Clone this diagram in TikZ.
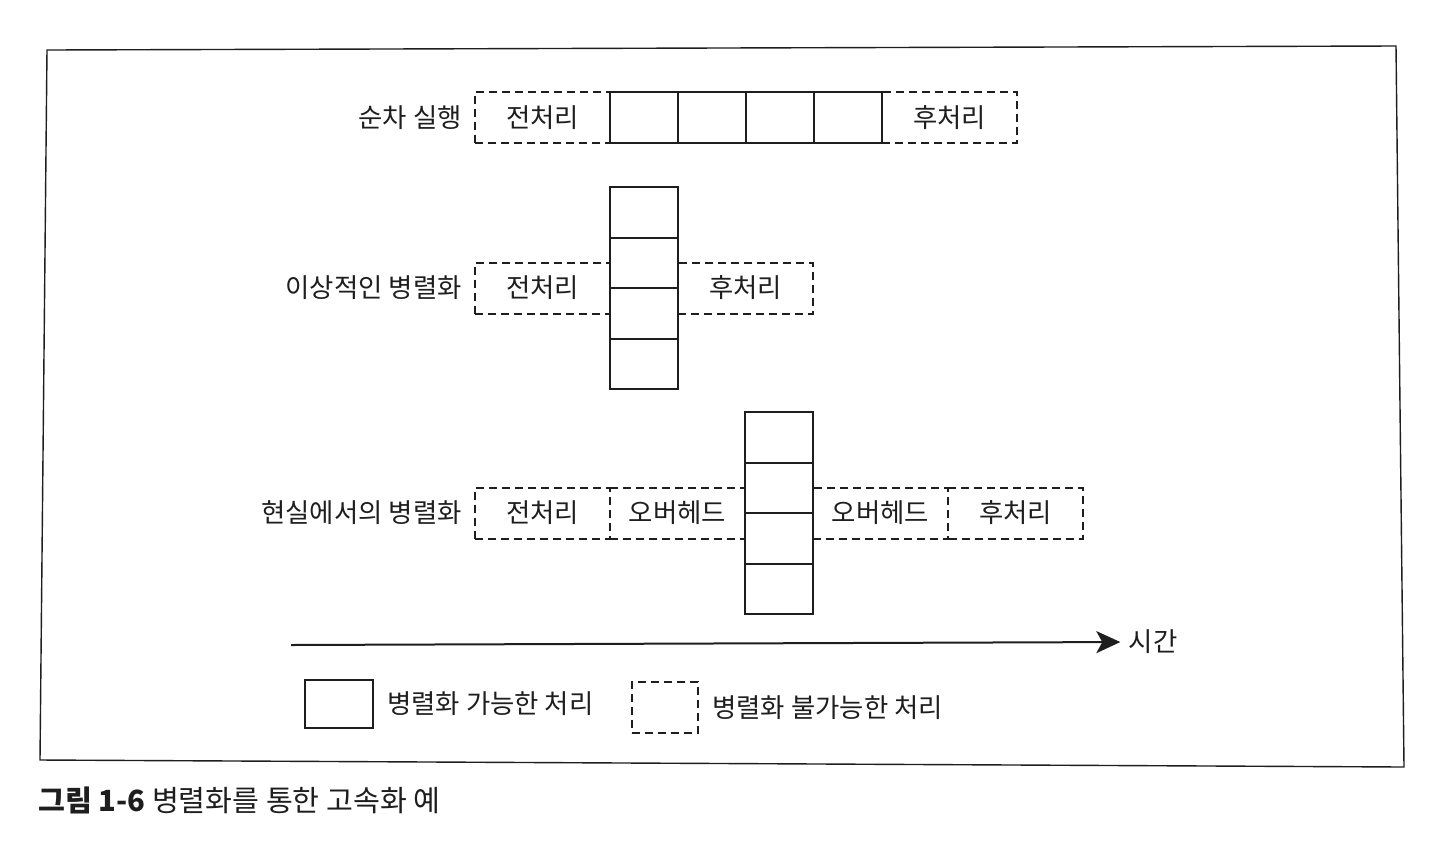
\documentclass[tikz,border=0pt]{standalone}
\usepackage{fontspec}
\setmainfont{Noto Sans CJK KR}
\usepackage{xcolor}
\usetikzlibrary{positioning,arrows.meta}
\definecolor{tinte}{HTML}{1E1E1E}
\definecolor{papier}{HTML}{FFFFFF}

\tikzset{
    parbox/.style={draw=tinte, line width=1pt, minimum width=34pt, minimum height=25.25pt, inner sep=0pt, outer sep=0pt},
    seqbox/.style={draw=tinte, line width=1pt, dash pattern=on 4pt off 2.5pt, minimum width=67.5pt, minimum height=25.5pt, inner sep=0pt, outer sep=0pt, text=tinte, font=\fontsize{13.2}{15}\selectfont},
    seqline/.style={draw=tinte, line width=1pt, dash pattern=on 4pt off 2.5pt},
    lbl/.style={inner sep=0pt, text=tinte, font=\fontsize{13.2}{15}\selectfont}
}

\begin{document}
\begin{tikzpicture}[x=0.5pt, y=-0.5pt]
\useasboundingbox[fill=papier] (0,0) rectangle (1440,858);

% Rahmen
\draw[tinte, line width=0.7pt] (47,50) -- (1396,46) -- (1404,767) -- (40,760) -- cycle;

% Zeile 1: sequentielle Ausfuehrung
\node[seqbox, anchor=north west] (pre1) at (475,92) {전처리};
\node[parbox, right=0pt of pre1] (s1) {};
\foreach \n in {2,...,4} {
    \pgfmathtruncatemacro{\prev}{\n-1}
    \node[parbox, right=0pt of s\prev] (s\n) {};
}
\node[seqbox, right=0pt of s4] (post1) {후처리};
\node[lbl, left=6.5pt of pre1] (row1) {순차 실행};

% Zeile 2: ideale Parallelisierung
\node[parbox, anchor=north west] (i1) at (610,187) {};
\foreach \n in {2,...,4} {
    \pgfmathtruncatemacro{\prev}{\n-1}
    \node[parbox, below=0pt of i\prev] (i\n) {};
}
\node[seqbox, anchor=east] (pre2) at (i2.south west) {전처리};
\node[seqbox, anchor=west] (post2) at (i2.south east) {후처리};
\node[lbl, left=6.5pt of pre2] (row2) {이상적인 병렬화};

% Zeile 3: reale Parallelisierung
\node[parbox, anchor=north west] (r1) at (745,412) {};
\foreach \n in {2,...,4} {
    \pgfmathtruncatemacro{\prev}{\n-1}
    \node[parbox, below=0pt of r\prev] (r\n) {};
}
% gemeinsame Kanten nur einmal gestrichelt
\node[seqbox, draw=none, anchor=east] (ovh3a) at (r2.south west) {오버헤드};
\node[seqbox, left=0pt of ovh3a] (pre3) {전처리};
\draw[seqline] (ovh3a.north west) -- (ovh3a.north east);
\draw[seqline] (ovh3a.south west) -- (ovh3a.south east);
\node[seqbox, anchor=west] (ovh3b) at (r2.south east) {오버헤드};
\node[seqbox, draw=none, right=0pt of ovh3b] (post3) {후처리};
\draw[seqline] (post3.north west) -- (post3.north east) -- (post3.south east) -- (post3.south west);
\node[lbl, left=6.5pt of pre3] (row3) {현실에서의 병렬화};

% Zeitachse
\coordinate (t0) at (291,645);
\node[lbl] (zeit) at (1153,642) {시간};
\draw[tinte, line width=1pt, shorten >=4pt, -{Stealth[length=12pt, width=11pt, inset=3pt]}] (t0) -- (zeit.west);

% Legende
\node[parbox, anchor=north west, minimum height=24pt] (leg1) at (305,680) {};
\node[lbl, right=7pt of leg1] (leg1t) {병렬화 가능한 처리};
\node[seqbox, anchor=north west, minimum width=33pt] (leg2) at (632,682) {};
\node[lbl, right=7pt of leg2] (leg2t) {병렬화 불가능한 처리};

% Bildunterschrift
\node[lbl, anchor=west, font=\fontsize{14.6}{17}\selectfont] (cap) at (38,800) {\textbf{그림 1-6} 병렬화를 통한 고속화 예};
\end{tikzpicture}
\end{document}
